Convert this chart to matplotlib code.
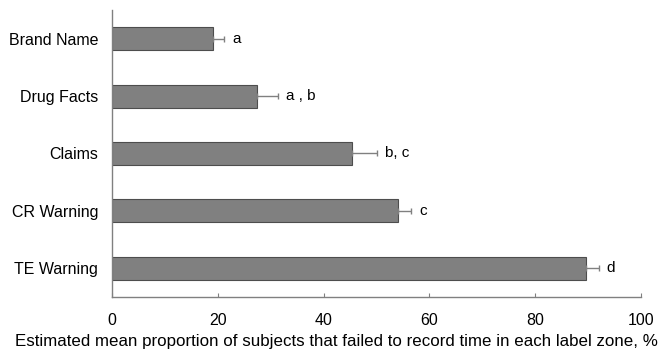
import numpy as np
import matplotlib.pyplot as plt

plt.rcParams['font.family'] = ['Liberation Sans', 'DejaVu Sans']

# Data
zones = ['Brand Name', 'Drug Facts', 'Claims', 'CR Warning', 'TE Warning']
means = [19.1, 27.4, 45.3, 54.0, 89.6]
errors = [2.1, 3.9, 4.8, 2.6, 2.4]
groups = ['a', 'a , b', 'b, c', 'c', 'd']

fig = plt.figure(figsize=(6.71, 3.58), dpi=100)
ax = fig.add_axes([0.167, 0.171, 0.788, 0.801])

# top of chart is the first zone
y = np.arange(len(zones))[::-1]
ax.barh(y, means, height=0.4, color='#808080', edgecolor='#4d4d4d', linewidth=0.8,
        xerr=[np.zeros(len(errors)), errors],
        error_kw=dict(ecolor='#808080', elinewidth=1, capsize=2.5, capthick=1))

for yi, m, e, g in zip(y, means, errors, groups):
    ax.annotate(g, xy=(m + e, yi), xytext=(6, 0), textcoords='offset points',
                va='center', ha='left', fontsize=11)

ax.set_xlim(0, 100)
ax.set_ylim(-0.5, 4.5)
ax.set_xticks([0, 20, 40, 60, 80, 100])
ax.set_yticks(y)
ax.set_yticklabels(zones)

ax.spines['top'].set_visible(False)
ax.spines['right'].set_visible(False)
for s in ['left', 'bottom']:
    ax.spines[s].set_color('#808080')
    ax.spines[s].set_linewidth(1)

ax.tick_params(axis='x', direction='in', length=3, color='#808080', pad=12, labelsize=11.5)
ax.tick_params(axis='y', length=0, pad=10, labelsize=11.5)

# the axis title sits centred on the figure, not the axes
fig.text(0.5015, 0.045,
         'Estimated mean proportion of subjects that failed to record time in each label zone, %',
         fontsize=12.2, ha='center', va='center')

plt.savefig('out.png', dpi=100)
